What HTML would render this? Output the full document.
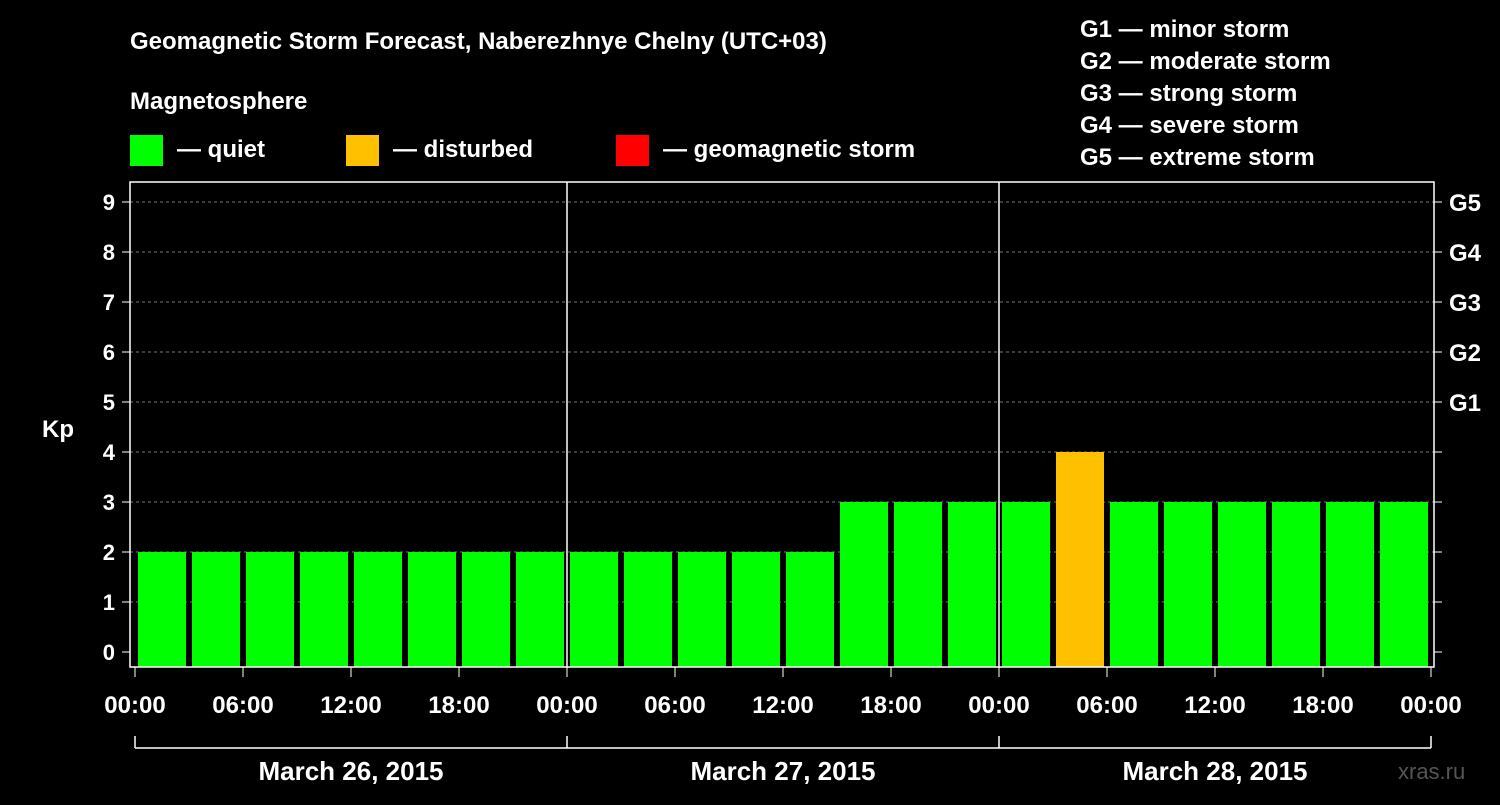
<!DOCTYPE html>
<html><head><meta charset="utf-8"><style>
body{margin:0;background:#000;width:1500px;height:800px;overflow:hidden;font-family:"Liberation Sans",sans-serif}
svg text{font-family:"Liberation Sans",sans-serif;font-weight:bold;fill:#fff}
</style></head><body>
<svg id="c" width="1500" height="800" xmlns="http://www.w3.org/2000/svg">
<rect width="1500" height="800" fill="#000"/>
<text x="130" y="49" font-size="24">Geomagnetic Storm Forecast, Naberezhnye Chelny (UTC+03)</text>
<text x="130" y="109" font-size="24">Magnetosphere</text>
<rect x="130" y="135" width="33" height="31" fill="#00ff00"/>
<text x="177" y="157" font-size="24">— quiet</text>
<rect x="346" y="135" width="33" height="31" fill="#ffc000"/>
<text x="393" y="157" font-size="24">— disturbed</text>
<rect x="616" y="135" width="33" height="31" fill="#ff0000"/>
<text x="663" y="157" font-size="24">— geomagnetic storm</text>
<g font-size="24">
<text x="1080" y="37">G1 — minor storm</text>
<text x="1080" y="69">G2 — moderate storm</text>
<text x="1080" y="101">G3 — strong storm</text>
<text x="1080" y="133">G4 — severe storm</text>
<text x="1080" y="165">G5 — extreme storm</text>
</g>
<text x="42" y="437" font-size="24">Kp</text>
<text x="1398" y="779" font-size="22" fill="#555" style="fill:#555;font-weight:normal">xras.ru</text>
<g id="plot"></g>
</svg>
<script>
const values=[2,2,2,2,2,2,2,2, 2,2,2,2,2,3,3,3, 3,4,3,3,3,3,3,3];
const xTickLabels=["00:00","06:00","12:00","18:00","00:00","06:00","12:00","18:00","00:00","06:00","12:00","18:00","00:00"];
const dateLabels=["March 26, 2015","March 27, 2015","March 28, 2015"];
const gLabels=["G1","G2","G3","G4","G5"];
const yTicks=[0,1,2,3,4,5,6,7,8,9];
const ns="http://www.w3.org/2000/svg";
const g=document.getElementById('plot');
const L=130,R=1434,T=182,B=667,x0=135,dayW=432;
const y=v=>652-v*50;
const xh=h=>x0+h*dayW/24;
function el(t,a,p){const e=document.createElementNS(ns,t);for(const k in a)e.setAttribute(k,a[k]);(p||g).appendChild(e);return e;}
yTicks.forEach(v=>{
 if(v>0){const l=el('line',{x1:L,x2:R,y1:y(v),y2:y(v),stroke:'#777','stroke-dasharray':'3,3'});
 
 }
 const t=el('line',{x1:122,x2:L,y1:y(v),y2:y(v),stroke:'#fff'});
 
 
 const t2=el('line',{x1:R,x2:1442,y1:y(v),y2:y(v),stroke:'#fff'});
 
 
 const tx=el('text',{x:115,y:y(v)+8,'font-size':22,'text-anchor':'end'});tx.textContent=v;
 
 
});
gLabels.forEach((s,i)=>{const tx=el('text',{x:1449,y:y(i+5)+9,'font-size':24});tx.textContent=s;
 
 });
values.forEach((v,i)=>{
 const c=v>=5?'#ff0000':v>=4?'#ffc000':'#00ff00';
 const r=el('rect',{x:xh(i*3)+3,y:y(v),width:48,height:B-y(v),fill:c});
 
 
});
const fr=el('rect',{x:L,y:T,width:R-L,height:B-T,fill:'none',stroke:'#fff','stroke-width':1.5});


[1,2].forEach(d=>{const l=el('line',{x1:x0+d*dayW,x2:x0+d*dayW,y1:T,y2:B,stroke:'#fff','stroke-width':1.5});
 
 });
xTickLabels.forEach((s,i)=>{
 const x=xh(i*6);
 const t=el('line',{x1:x,x2:x,y1:B,y2:B+10,stroke:'#fff'});
 
 
 const tx=el('text',{x:x,y:713,'font-size':24,'text-anchor':'middle'});tx.textContent=s;
 
 
});
const br=el('line',{x1:x0,x2:x0+3*dayW,y1:748,y2:748,stroke:'#fff','stroke-width':1.5});


[0,1,2,3].forEach(d=>{const l=el('line',{x1:x0+d*dayW,x2:x0+d*dayW,y1:736,y2:748,stroke:'#fff','stroke-width':1.5});
 
 });
dateLabels.forEach((s,i)=>{const tx=el('text',{x:x0+i*dayW+dayW/2,y:780,'font-size':26,'text-anchor':'middle'});tx.textContent=s;
 
 });
</script>
</body></html>
